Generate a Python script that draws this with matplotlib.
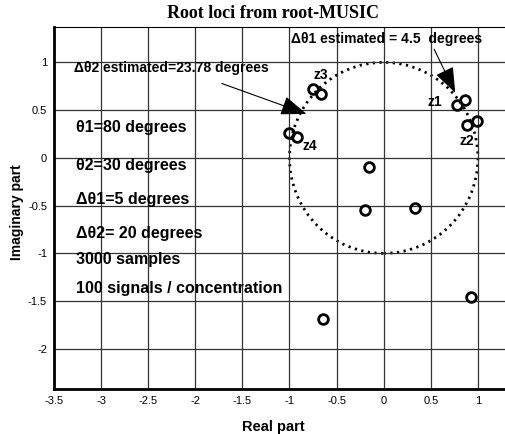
import matplotlib.pyplot as plt
from matplotlib.patches import Circle

# roots estimated by root-MUSIC
re_roots = [-0.75, -0.67, 0.78, 0.86, 0.88, 0.99, -1.0, -0.92, -0.16, -0.20, 0.33, -0.64, 0.93]
im_roots = [0.72, 0.67, 0.55, 0.61, 0.34, 0.39, 0.26, 0.22, -0.095, -0.55, -0.52, -1.69, -1.46]

xticks = [-3.5, -3, -2.5, -2, -1.5, -1, -0.5, 0, 0.5, 1]
yticks = [-2, -1.5, -1, -0.5, 0, 0.5, 1]

root_names = ['z1', 'z2', 'z3', 'z4']
name_x = [0.46, 0.81, -0.75, -0.86]
name_y = [0.59, 0.18, 0.87, 0.12]

info_lines = ['\u03b81=80 degrees', '\u03b82=30 degrees', '\u0394\u03b81=5 degrees',
              '\u0394\u03b82= 20 degrees', '3000 samples', '100 signals / concentration']
info_y = [0.32, -0.08, -0.44, -0.79, -1.06, -1.37]

plt.rcParams['font.family'] = ['Liberation Sans', 'DejaVu Sans']

fig = plt.figure(figsize=(5.06, 4.34), dpi=100)
ax = fig.add_axes([54 / 506, 45 / 434, 451 / 506, 362 / 434])

ax.add_patch(Circle((0, 0), 1, fill=False, color='black', lw=2, linestyle=(0, (0.8, 1.6))))
ax.plot(re_roots, im_roots, 'o', ms=7, mfc='none', mec='black', mew=2)

ax.set_xlim(-3.5, 1.288)
ax.set_ylim(-2.42, 1.37)
ax.set_xticks(xticks)
ax.set_xticklabels([f'{v:g}' for v in xticks])
ax.set_yticks(yticks)
ax.set_yticklabels([f'{v:g}' for v in yticks])
ax.tick_params(labelsize=8, length=0, pad=5)
ax.grid(True, color='0.2', lw=0.9)
for s in ['left', 'bottom']:
    ax.spines[s].set_linewidth(2)
ax.spines['top'].set_linewidth(0.8)
ax.spines['right'].set_visible(False)

for n, x, y in zip(root_names, name_x, name_y):
    ax.text(x, y, n, fontsize=10, fontweight='bold', va='center')

for t, y in zip(info_lines, info_y):
    ax.text(-3.27, y, t, fontsize=11.5, fontweight='bold', va='center')

head = '-|>,head_length=1.6,head_width=0.6'
ax.annotate('\u0394\u03b81 estimated = 4.5  degrees', xy=(0.76, 0.68), xytext=(-0.98, 1.24),
            fontsize=10, fontweight='bold', va='center',
            arrowprops=dict(arrowstyle=head, color='black', lw=0.8,
                            shrinkA=0, shrinkB=0, relpos=(0.74, 0)))
ax.annotate('\u0394\u03b82 estimated=23.78 degrees', xy=(-0.82, 0.46), xytext=(-3.29, 0.94),
            fontsize=10, fontweight='bold', va='center',
            arrowprops=dict(arrowstyle=head, color='black', lw=0.8,
                            shrinkA=0, shrinkB=0, relpos=(0.76, -0.6)))

fig.text(273 / 506, 1 - 13 / 434, 'Root loci from root-MUSIC', ha='center', va='center',
         fontsize=13, fontweight='bold', family='Liberation Serif')
fig.text(273 / 506, 1 - 427 / 434, 'Real part', ha='center', va='center', fontsize=10.5, fontweight='bold')
fig.text(17 / 506, 1 - 212 / 434, 'Imaginary part', ha='center', va='center', fontsize=10,
         fontweight='bold', rotation=90)

fig.savefig('out.png', dpi=100)
